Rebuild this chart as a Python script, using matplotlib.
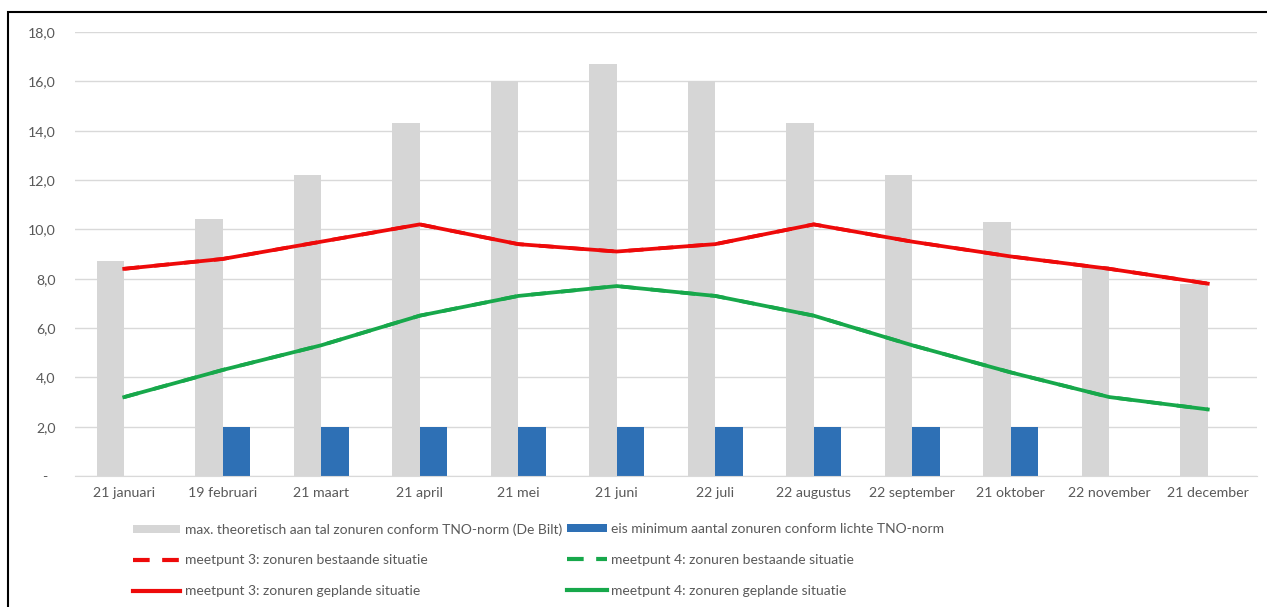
import matplotlib
matplotlib.use("Agg")
import matplotlib.pyplot as plt
from matplotlib.patches import Patch, Rectangle
from matplotlib.lines import Line2D
import numpy as np

categories = ["21 januari", "19 februari", "21 maart", "21 april", "21 mei", "21 juni",
              "22 juli", "22 augustus", "22 september", "21 oktober", "22 november", "21 december"]
max_theoretisch = [8.7, 10.4, 12.2, 14.3, 16.0, 16.7, 16.0, 14.3, 12.2, 10.3, 8.5, 7.8]
eis_minimum = [0, 2.0, 2.0, 2.0, 2.0, 2.0, 2.0, 2.0, 2.0, 2.0, 0, 0]
mp3_bestaand = [8.4, 8.8, 9.5, 10.2, 9.4, 9.1, 9.4, 10.2, 9.5, 8.9, 8.4, 7.8]
mp3_gepland = [8.4, 8.8, 9.5, 10.2, 9.4, 9.1, 9.4, 10.2, 9.5, 8.9, 8.4, 7.8]
mp4_bestaand = [3.2, 4.3, 5.3, 6.5, 7.3, 7.7, 7.3, 6.5, 5.3, 4.2, 3.2, 2.7]
mp4_gepland = [3.2, 4.3, 5.3, 6.5, 7.3, 7.7, 7.3, 6.5, 5.3, 4.2, 3.2, 2.7]
yticks = [0, 2, 4, 6, 8, 10, 12, 14, 16, 18]
ytick_labels = ["-  ", "2,0", "4,0", "6,0", "8,0", "10,0", "12,0", "14,0", "16,0", "18,0"]

labels = [
    "max. theoretisch aan tal zonuren conform TNO-norm (De Bilt)",
    "eis minimum aantal zonuren conform lichte TNO-norm",
    "meetpunt 3: zonuren bestaande situatie",
    "meetpunt 4: zonuren bestaande situatie",
    "meetpunt 3: zonuren geplande situatie",
    "meetpunt 4: zonuren geplande situatie",
]

GREY = "#d6d6d6"
BLUE = "#2e70b5"
RED = "#ee0a0a"
GREEN = "#17a84b"
TXT = "#595959"

plt.rcParams["font.family"] = ["Lato", "DejaVu Sans"]

W, H = 1267, 607
fig = plt.figure(figsize=(W / 100, H / 100), dpi=100)
ax = fig.add_axes([75 / W, 1 - 476 / H, (1257 - 75) / W, (476 - 32) / H])

x = np.arange(len(categories))
bw = 0.28
ax.bar(x - bw / 2, max_theoretisch, width=bw, color=GREY, zorder=2)
ax.bar(x + bw / 2, eis_minimum, width=bw, color=BLUE, zorder=2)
lw = 2.7
ax.plot(x, mp3_bestaand, color=RED, lw=lw, ls=(0, (4, 4)), zorder=3)
ax.plot(x, mp4_bestaand, color=GREEN, lw=lw, ls=(0, (4, 4)), zorder=3)
ax.plot(x, mp3_gepland, color=RED, lw=lw, zorder=4, solid_joinstyle="round")
ax.plot(x, mp4_gepland, color=GREEN, lw=lw, zorder=4, solid_joinstyle="round")

ax.set_xlim(-0.5, len(categories) - 0.5)
ax.set_ylim(0, 18)
ax.set_yticks(yticks)
ax.set_yticklabels(ytick_labels)
ax.set_xticks(x)
ax.set_xticklabels(categories)
ax.yaxis.grid(True, color="#d9d9d9", lw=1.0, zorder=0)
ax.set_axisbelow(True)
for s in ["left", "right", "top"]:
    ax.spines[s].set_visible(False)
ax.spines["bottom"].set_color("#d9d9d9")
ax.tick_params(axis="both", length=0, colors=TXT, labelsize=10.2)
ax.tick_params(axis="y", pad=14)
ax.tick_params(axis="x", pad=8)

h_grey = Patch(facecolor=GREY, edgecolor="none")
h_blue = Patch(facecolor=BLUE, edgecolor="none")
h_r_dash = Line2D([], [], color=RED, lw=3, ls=(0, (4, 3)))
h_g_dash = Line2D([], [], color=GREEN, lw=3, ls=(0, (4, 3)))
h_r = Line2D([], [], color=RED, lw=3)
h_g = Line2D([], [], color=GREEN, lw=3)

common = dict(frameon=False, fontsize=10, labelcolor=TXT,
              handletextpad=0.35, labelspacing=1.36, borderpad=0, borderaxespad=0,
              handleheight=0.5)
leg1 = fig.legend([h_grey, h_r_dash, h_r], [labels[0], labels[2], labels[4]],
                  loc="upper left", bbox_to_anchor=(133 / W, 1 - 523 / H),
                  handlelength=3.4, **common)
leg2 = fig.legend([h_blue, h_g_dash, h_g], [labels[1], labels[3], labels[5]],
                  loc="upper left", bbox_to_anchor=(567 / W, 1 - 523 / H),
                  handlelength=2.85, **common)

fig.patches.append(Rectangle((8 / W, -0.05), 1.1, (1 - 12 / H) + 0.05,
                             transform=fig.transFigure, fill=False,
                             edgecolor="black", lw=1.5, zorder=10))

fig.savefig("out.png", dpi=100)
